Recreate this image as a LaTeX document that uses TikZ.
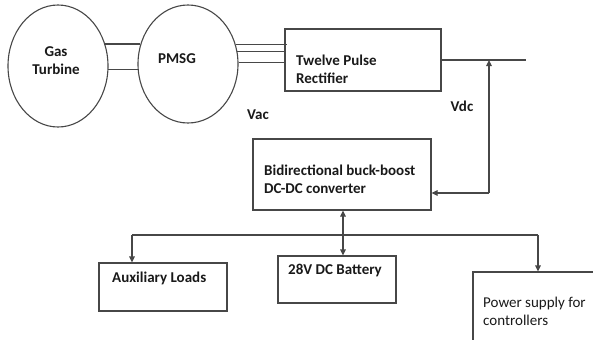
\documentclass[tikz,border=0pt]{standalone}
\usepackage{fontspec}
\setmainfont{Carlito}
\usetikzlibrary{arrows.meta,shapes.geometric}
\tikzset{
  ln/.style={draw=black!72, line width=1.1bp},
  tip/.style={-{Triangle[length=6bp,width=5.5bp]}},
  both/.style={{Triangle[length=6bp,width=5.5bp]}-{Triangle[length=6bp,width=5.5bp]}},
  machine/.style={ellipse, ln, inner sep=0pt},
  blk/.style={ln, rectangle, inner sep=0pt},
  lbl/.style={font=\fontsize{15bp}{18bp}\selectfont\bfseries, align=left, inner sep=0pt, text=black!90},
  lblr/.style={font=\fontsize{15bp}{18bp}\selectfont, align=left, inner sep=0pt, text=black!90}
}
\begin{document}
\begin{tikzpicture}[x=1bp,y=-1bp]
\useasboundingbox (0,0) rectangle (593,339);
\clip (0,0) rectangle (593,339);
% machines
\node[machine, minimum width=100bp, minimum height=122bp] (gt) at (58,66) {};
\node[lbl, align=center] (gtl) at (56,61) {Gas\\Turbine};
\node[machine, minimum width=100bp, minimum height=118bp] (pm) at (188,64) {};
\node[lbl] (pml) at (177,59) {PMSG};
% blocks
\node[blk, minimum width=156bp, minimum height=62bp] (rect) at (363,60) {};
\node[lbl, anchor=west] (rectl) at (296,69) {Twelve Pulse\\Rectifier};
\node[blk, minimum width=178bp, minimum height=71bp] (conv) at (342,174.5) {};
\node[lbl, anchor=west] (convl) at (264,179) {Bidirectional buck-boost\\DC-DC converter};
\node[blk, minimum width=128bp, minimum height=48bp] (aux) at (163,287) {};
\node[lbl, anchor=west] (auxl) at (112,278) {Auxiliary Loads};
\node[blk, minimum width=118bp, minimum height=47bp] (batt) at (337,279.5) {};
\node[lbl, anchor=west] (battl) at (288,270) {28V DC Battery};
\node[blk, minimum width=140bp, minimum height=80bp] (pow) at (543,312) {};
\node[lblr, anchor=west] (powl) at (483,311) {Power supply for\\controllers};
\node[lbl] (vac) at (258,115) {Vac};
\node[lbl] (vdc) at (462,106) {Vdc};
% shaft lines
\draw[ln] (gt.25) -- (gt.25 -| pm.157);
\draw[ln] (gt.-4) -- (gt.-4 -| pm.186);
% three-phase lines
\draw[ln] (pm.22) -- ([xshift=3bp]pm.22 -| rect.west);
\draw[ln] (pm.14) -- (pm.14 -| rect.west);
\draw[ln] (pm.2) -- (pm.2 -| rect.west);
% dc bus
\coordinate (busend) at (526,60);
\coordinate (tap) at (489,60);
\coordinate (corner) at (489,193);
\draw[ln] (rect.east) -- (busend);
\draw[ln, tip] (corner) -- (tap);
\draw[ln, tip] (corner) -- (corner -| conv.east);
% converter to battery
\draw[ln, both] (conv.south -| 343,0) -- (batt.north -| 343,0);
% distribution
\coordinate (dl) at (132,235);
\coordinate (dr) at (538,235);
\draw[ln] (dl) -- (dr);
\draw[ln, tip] (dl) -- (dl |- aux.north);
\draw[ln, tip] (dr) -- (dr |- pow.north);
\end{tikzpicture}
\end{document}
